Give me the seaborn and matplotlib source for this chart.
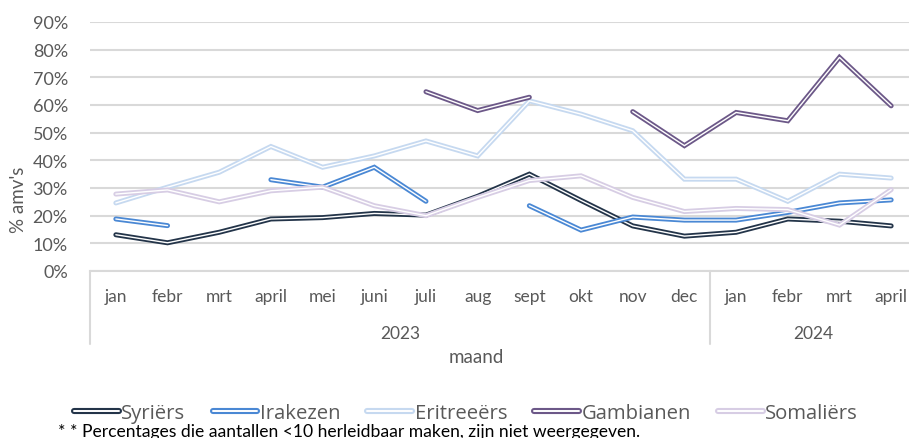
import numpy as np
import pandas as pd
import seaborn as sns
import matplotlib.pyplot as plt
import matplotlib.patheffects as pe
from matplotlib.lines import Line2D

# Monthly data (percentages), NaN = not shown
months = ["jan", "febr", "mrt", "april", "mei", "juni", "juli", "aug", "sept", "okt",
          "nov", "dec", "jan", "febr", "mrt", "april"]
years = ["2023", "2024"]
syriers = [13.1, 10.2, 14.0, 18.8, 19.3, 20.8, 20.2, 27.0, 35.0, 25.5, 16.3, 12.6, 14.0, 18.8, 18.0, 16.3]
irakezen = [18.8, 16.4, np.nan, 33.0, 30.3, 37.5, 25.2, np.nan, 23.6, 14.8, 19.5, 18.4, 18.4, 21.2, 24.6, 25.7]
eritreeers = [24.6, 30.3, 35.7, 45.0, 37.5, 41.6, 47.0, 41.6, 61.5, 56.7, 50.7, 33.2, 33.2, 25.2, 35.0, 33.6]
gambianen = [np.nan, np.nan, np.nan, np.nan, np.nan, np.nan, 64.8, 58.0, 62.8, np.nan, 57.6, 45.3, 57.3, 54.3, 77.2, 59.7]
somaliers = [27.8, 29.3, 25.0, 29.0, 30.3, 23.6, 20.0, 26.6, 32.7, 34.4, 26.6, 21.5, 22.6, 22.2, 16.6, 29.4]

series = {
    "Syriërs": syriers,
    "Irakezen": irakezen,
    "Eritreeërs": eritreeers,
    "Gambianen": gambianen,
    "Somaliërs": somaliers,
}
colors = {
    "Syriërs": "#233449",
    "Irakezen": "#4A88D4",
    "Eritreeërs": "#C6D9F0",
    "Gambianen": "#6C5888",
    "Somaliërs": "#D7CDE4",
}

sns.set_theme(style="white")
plt.rcParams["font.family"] = ["Lato", "DejaVu Sans"]
grey = "#595959"

fig = plt.figure(figsize=(9.09, 4.39), dpi=100)
ax = fig.add_axes([90 / 909, 167 / 439, 827 / 909, 249 / 439])

handles = []
for name, vals in series.items():
    df = pd.DataFrame({"pos": np.arange(len(months)), "val": vals})
    # split into segments so gaps are not bridged
    df["seg"] = df["val"].isna().cumsum()
    df = df.dropna()
    fx = [pe.Stroke(linewidth=3.6, foreground=colors[name]), pe.Normal()]
    sns.lineplot(data=df, x="pos", y="val", units="seg", estimator=None, ax=ax,
                 color="white", lw=1.0, path_effects=fx, legend=False,
                 solid_capstyle="round", solid_joinstyle="miter")
    handles.append(Line2D([], [], color="white", lw=1.4, solid_capstyle="round",
                          path_effects=[pe.Stroke(linewidth=4.4, foreground=colors[name]), pe.Normal()],
                          label=name))

ax.set_xlim(-0.5, 15.5)
ax.set_ylim(0, 90)
ax.set_yticks(range(0, 91, 10))
ax.set_yticklabels([f"{v}%" for v in range(0, 91, 10)], color=grey, fontsize=13)
ax.set_xticks(range(len(months)))
ax.set_xticklabels(months, color=grey, fontsize=12.5)
ax.tick_params(axis="x", length=0, pad=12)
ax.tick_params(axis="y", length=0, pad=16)
ax.grid(axis="y", color="#D9D9D9", lw=1.5)
ax.set_axisbelow(True)
for s in ["top", "right", "left"]:
    ax.spines[s].set_visible(False)
ax.spines["bottom"].set_color("#D9D9D9")
ax.spines["bottom"].set_linewidth(1.5)
ax.set_xlabel("")
ax.set_ylabel("")

# year groups of the category axis
trans = ax.get_xaxis_transform()
for xb in [-0.5, 11.5]:
    ax.plot([xb, xb], [0, -0.293], transform=trans, color="#D9D9D9", lw=1.5, clip_on=False)
ax.text(5.5, -0.250, years[0], transform=trans, ha="center", va="center", color=grey, fontsize=12.5)
ax.text(13.5, -0.250, years[1], transform=trans, ha="center", va="center", color=grey, fontsize=12.5)

fig.text(476 / 909, 1 - 358 / 439, "maand", ha="center", va="center", color=grey, fontsize=13.5)
fig.text(18 / 909, 1 - 200 / 439, "% amv's", ha="center", va="center", rotation=90,
         color=grey, fontsize=13.5)

fig.legend(handles=handles, loc="center", bbox_to_anchor=(466 / 909, 1 - 414 / 439),
           ncol=5, frameon=False, labelcolor=grey, handlelength=2.2,
           handletextpad=0.12, columnspacing=1.35, prop={"family": ["Open Sans", "DejaVu Sans"], "size": 14.6})
fig.text(58 / 909, 1 - 432 / 439, "* * Percentages die aantallen <10 herleidbaar maken, zijn niet weergegeven.",
         ha="left", va="center", color="black", fontsize=12.6)

fig.savefig("out.png", dpi=100)
